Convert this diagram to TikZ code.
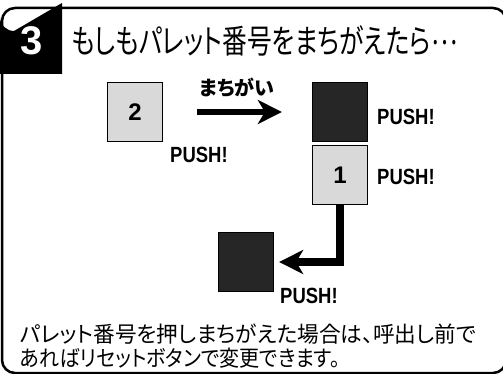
\documentclass[tikz,border=0pt]{standalone}
\usepackage{fontspec}
\usepackage{xcolor}
\setmainfont{Liberation Sans}
\newfontfamily\jpfont[RawFeature=+palt]{Noto Sans CJK JP}
\newfontfamily\jptitle[FakeStretch=0.75,RawFeature=+palt]{Noto Sans CJK JP}
\newfontfamily\pushfont[FakeStretch=0.84]{Liberation Sans}
\usetikzlibrary{arrows.meta}

\begin{document}
\begin{tikzpicture}[x=1pt,y=-1pt,
	keybox/.style={draw=black, line width=1.3pt, minimum width=55pt, minimum height=59pt, inner sep=0pt},
	keylight/.style={keybox, fill=black!15, font=\bfseries\fontsize{24}{24}\selectfont},
	keydark/.style={keybox, fill=black!85},
	pushtext/.style={anchor=base west, inner sep=0pt, font=\pushfont\bfseries\fontsize{22}{22}\selectfont},
	notetext/.style={anchor=base west, inner sep=0pt, font=\jpfont\fontsize{22}{22}\selectfont},
	bigarrow/.style={line width=6pt, -{Stealth[length=24pt,width=24pt,inset=7pt]}}]
	\useasboundingbox (0,0) rectangle (503,374);
	\clip (0,0) rectangle (503,374);
	
	% Frame and tab
	\draw[line width=2.5pt, rounded corners=13pt] (2,8) rectangle (506,373);
	\fill (62,74) -- (0,74) -- (0,17) arc[start angle=180, end angle=90, radius=14] -- (62,3) -- cycle;
	\node[anchor=base, inner sep=0pt, text=white, font=\bfseries\fontsize{40}{40}\selectfont] (tabnum) at (32,55) {3};
	\node[anchor=base west, inner sep=0pt, font=\jptitle\fontsize{33}{33}\selectfont] (title) at (71,54) {もしもパレット番号をまちがえたら\raisebox{0.3em}{…}};
	
	% Keys
	\node[keylight] (key2) at (135,112) {2};
	\node[keydark] (wrongkey) at (340,112) {};
	\node[keylight] (key1) at (340,175) {1};
	\node[keydark] (callkey) at (246,262) {};
	
	% PUSH! labels
	\node[pushtext] (push2) at (170,163) {PUSH!};
	\node[pushtext] (pushwrong) at (377,125) {PUSH!};
	\node[pushtext] (push1) at (377,185) {PUSH!};
	\node[pushtext] (pushcall) at (280,303) {PUSH!};
	
	% Arrows
	\node[anchor=base, inner sep=0pt, font=\jpfont\bfseries\fontsize{20}{20}\selectfont] (mistake) at (237,96) {まちがい};
	\draw[bigarrow, shorten <=34pt, shorten >=30pt] (key2) -- (wrongkey);
	\draw[bigarrow, line width=7.5pt, shorten >=5pt] (key1.south) |- (callkey.east);
	
	% Note
	\node[notetext] (note1) at (20,342) {\scalebox{0.985}[1]{パレット番号を押しまちがえた場合は、呼出し前で}};
	\node[notetext] (note2) at (20,366) {\scalebox{0.91}[1]{あればリセットボタンで変更できます。}};
\end{tikzpicture}
\end{document}
